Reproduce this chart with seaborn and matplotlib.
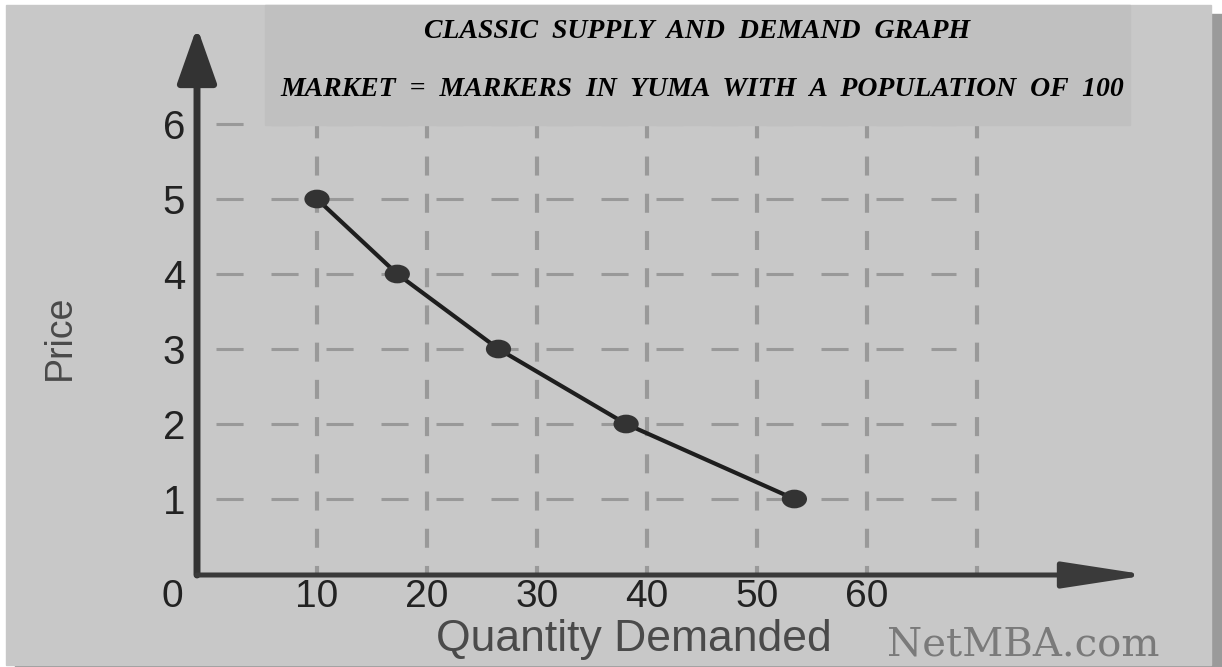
import matplotlib
matplotlib.use("Agg")
import matplotlib.pyplot as plt
import seaborn as sns
import pandas as pd
from matplotlib.path import Path
from matplotlib.patches import Rectangle
from matplotlib.transforms import Affine2D

# data
quantity = [10, 17.3, 26.5, 38.1, 53.4]
price = [5, 4, 3, 2, 1]
x_ticks = [10, 20, 30, 40, 50, 60]
y_ticks = [1, 2, 3, 4, 5, 6]
x_grid = [10, 20, 30, 40, 50, 60, 70]
title_1 = "CLASSIC  SUPPLY  AND  DEMAND  GRAPH"
title_2 = "MARKET  =  MARKERS  IN  YUMA  WITH  A  POPULATION  OF  100"

df = pd.DataFrame({"Quantity": quantity, "Price": price})

W, H = 1222, 667
sns.set_theme(style="white")
plt.rcParams["lines.scale_dashes"] = False
plt.rcParams["font.family"] = ["Liberation Sans", "DejaVu Sans"]

fig = plt.figure(figsize=(W / 100, H / 100), dpi=100, facecolor="white")

def fx(px):
    return px / W

def fy(py):
    return 1 - py / H

# panel with drop shadow
fig.add_artist(Rectangle((fx(15), fy(667)), fx(1222 - 15), (667 - 14) / H,
                         transform=fig.transFigure, color="#9a9a9a", zorder=-2))
fig.add_artist(Rectangle((fx(6), fy(665)), fx(1211 - 6), (665 - 5) / H,
                         transform=fig.transFigure, color="#c8c8c8", zorder=-1))

# axes: y-axis at px 197, x-axis at py 575, arrow tips near 1137 / 36
right, top = 1148, 27
ax = fig.add_axes([fx(197), fy(575), fx(right - 197), (575 - top) / H])
ax.set_facecolor("none")
ax.set_xlim((197 - 207) / 11, (right - 207) / 11)
ax.set_ylim((574 - 575) / 75, (574 - top) / 75)
for s in ax.spines.values():
    s.set_visible(False)

# dashed grid
ax.hlines(y_ticks, 0.8, 68.1, colors="#999999", linewidth=2.2,
          linestyles=(0, (19.5, 20.1)), zorder=1)
ax.vlines(x_grid, -0.013, 6.1, colors="#999999", linewidth=3.0,
          linestyles=(7.2, (13.7, 13.1)), zorder=1)

# demand curve
sns.lineplot(data=df, x="Quantity", y="Price", ax=ax, color="#1e1e1e",
             linewidth=3.0, zorder=3)
ellipse = Path.unit_circle().transformed(Affine2D().scale(1.35, 1.0))
sns.scatterplot(data=df, x="Quantity", y="Price", ax=ax, marker=ellipse,
                s=330, color="#333333", edgecolor="none", zorder=4)

# axis arrows
ax.annotate("", xy=(0, 1), xytext=(0, 0), xycoords="axes fraction",
            arrowprops=dict(arrowstyle="-|>,head_length=34,head_width=12",
                            mutation_scale=1, lw=5.0, color="#333333",
                            shrinkA=0, shrinkB=0), annotation_clip=False)
ax.annotate("", xy=(1, 0), xytext=(0, 0), xycoords="axes fraction",
            arrowprops=dict(arrowstyle="-|>,head_length=52,head_width=8",
                            mutation_scale=1, lw=3.6, color="#3a3a3a",
                            shrinkA=0, shrinkB=0), annotation_clip=False)

ax.set_xticks(x_ticks)
ax.set_xticklabels([str(v) for v in x_ticks])
ax.set_yticks(y_ticks)
ax.set_yticklabels([str(v) for v in y_ticks])
ax.tick_params(axis="x", length=0, pad=3, labelsize=28, labelcolor="#222222")
ax.tick_params(axis="y", length=0, pad=8.6, labelsize=29, labelcolor="#222222")
ax.set_xlabel("")
ax.set_ylabel("")

fig.text(fx(172), fy(597), "0", fontsize=28, color="#222222",
         ha="center", va="center")
fig.text(fx(634), fy(640), "Quantity Demanded", fontsize=32, color="#4a4a4a",
         ha="center", va="center")
fig.text(fx(60), fy(337), "Price", fontsize=27, color="#4a4a4a",
         ha="center", va="center", rotation=90)
fig.text(fx(887), fy(655), "NetMBA.com", fontsize=29, color="#7a7a7a",
         family="DejaVu Serif", ha="left", va="baseline")

# title box
fig.add_artist(Rectangle((fx(265), fy(125)), fx(1130 - 265), (125 - 5) / H,
                         transform=fig.transFigure, color="#c0c0c0", zorder=5))
fig.text(fx(697), fy(32), title_1, fontsize=20, family="Liberation Serif",
         weight="bold", style="italic", color="black", ha="center", va="center",
         zorder=6)
fig.text(fx(702), fy(89), title_2, fontsize=20, family="Liberation Serif",
         weight="bold", style="italic", color="black", ha="center", va="center",
         zorder=6)

fig.savefig("out.png", dpi=100, facecolor="white")
